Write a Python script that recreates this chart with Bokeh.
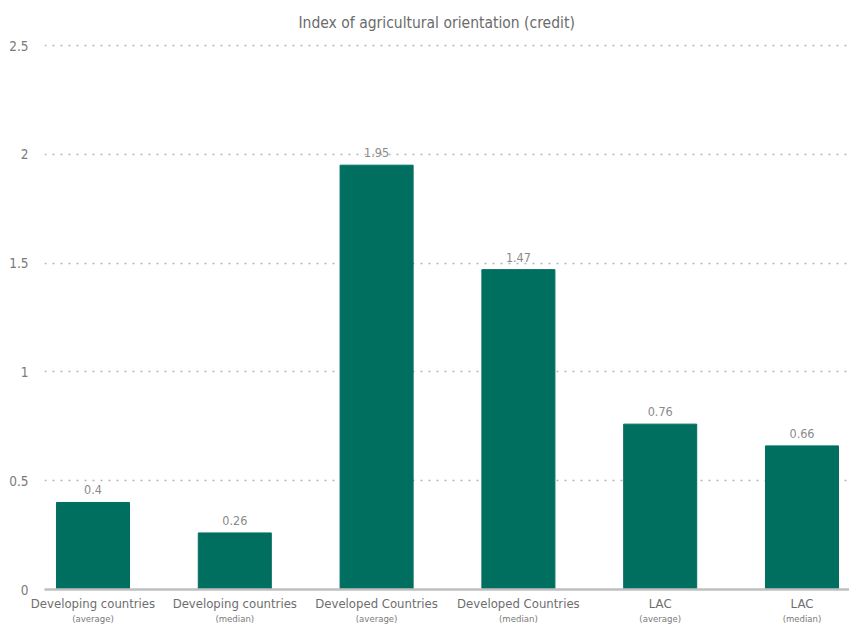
from bokeh.plotting import figure
from bokeh.models import ColumnDataSource, FixedTicker, LinearAxis, Range1d
from bokeh.core.properties import value
from bokeh.embed import file_html
from bokeh.resources import INLINE

categories = ["Developing countries", "Developing countries", "Developed Countries",
              "Developed Countries", "LAC", "LAC"]
subtitles = ["(average)", "(median)", "(average)", "(median)", "(average)", "(median)"]
values = [0.4, 0.26, 1.95, 1.47, 0.76, 0.66]
value_labels = ["0.4", "0.26", "1.95", "1.47", "0.76", "0.66"]
y_ticks = [0, 0.5, 1, 1.5, 2, 2.5]
y_tick_labels = ["0", "0.5", "1", "1.5", "2", "2.5"]

FONT = "DejaVu Sans Condensed, Liberation Sans Narrow, sans-serif"
BAR = "#006F5F"

pos = list(range(len(values)))
src = ColumnDataSource(dict(x=pos, top=values, lab=value_labels))

p = figure(width=849, height=626, output_backend="svg", toolbar_location=None,
           x_range=Range1d(-0.342, 5.335), y_range=Range1d(0, 2.523),
           min_border_left=44, min_border_right=0, min_border_top=40,
           min_border_bottom=36)
p.outline_line_color = None
p.title.text = "Index of agricultural orientation (credit)"
p.title.align = "left"
p.title.offset = 254
p.title.text_font = FONT
p.title.text_font_size = "15.5px"
p.title.text_font_style = "normal"
p.title.text_color = "#6b6b6b"
p.title.standoff = 17

p.vbar(x="x", top="top", width=0.515, bottom=0, source=src, color=BAR)
p.text(x="x", y="top", text="lab", source=src, text_align="center",
       text_baseline="bottom", y_offset=-8, text_font=value(FONT),
       text_font_size="12.5px", text_color="#8a8a8a")

# y axis
ya = p.yaxis[0]
ya.ticker = FixedTicker(ticks=y_ticks)
ya.major_label_overrides = {t: l for t, l in zip(y_ticks, y_tick_labels)}
ya.axis_line_color = None
ya.major_tick_line_color = None
ya.minor_tick_line_color = None
ya.major_tick_out = 0
ya.minor_tick_out = 0
ya.major_label_standoff = 16
ya.major_label_text_font = FONT
ya.major_label_text_font_size = "13.5px"
ya.major_label_text_color = "#7a7a7a"

p.ygrid.ticker = FixedTicker(ticks=[0.5, 1, 1.5, 2, 2.5])
p.ygrid.grid_line_color = "#b5b5b5"
p.ygrid.grid_line_dash = "2 6"
p.ygrid.grid_line_width = 1.5
p.xgrid.grid_line_color = None

# x axis: main labels
xa = p.xaxis[0]
xa.ticker = FixedTicker(ticks=pos)
xa.major_label_overrides = {i: c for i, c in zip(pos, categories)}
xa.axis_line_color = "#bfbfbf"
xa.axis_line_width = 2.5
xa.major_tick_line_color = None
xa.minor_tick_line_color = None
xa.major_tick_out = 0
xa.minor_tick_out = 0
xa.major_label_standoff = 6
xa.major_label_text_font = FONT
xa.major_label_text_font_size = "13px"
xa.major_label_text_color = "#6e6e6e"

# x axis: subtitles
xb = LinearAxis(ticker=FixedTicker(ticks=pos),
                major_label_overrides={i: s for i, s in zip(pos, subtitles)})
xb.axis_line_color = None
xb.major_tick_line_color = None
xb.minor_tick_line_color = None
xb.major_tick_out = 0
xb.minor_tick_out = 0
xb.major_label_standoff = -1
xb.major_label_text_font = FONT
xb.major_label_text_font_size = "9.5px"
xb.major_label_text_color = "#7a7a7a"
p.add_layout(xb, "below")

open("out.html", "w").write(file_html(p, INLINE))
